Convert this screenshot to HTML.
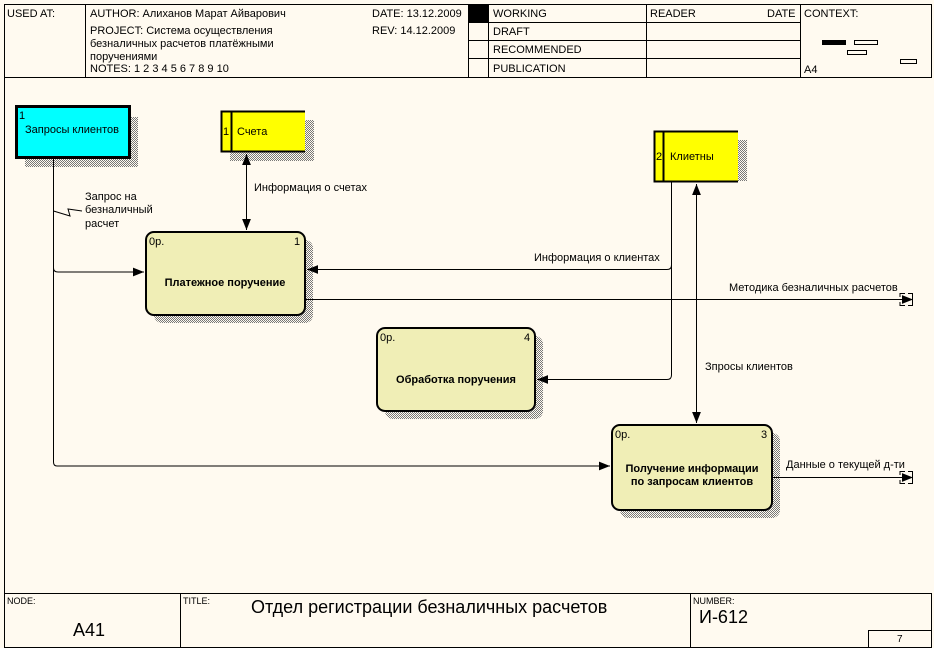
<!DOCTYPE html>
<html><head><meta charset="utf-8"><style>
html,body{margin:0;padding:0;background:#fffaf0;}
svg{display:block;}
text{font-family:"Liberation Sans","Noto Sans CJK SC",sans-serif;font-size:11px;fill:#000;}
.b{font-weight:bold;}
</style></head><body>
<svg width="934" height="648" viewBox="0 0 934 648" xmlns="http://www.w3.org/2000/svg">
<defs>
<pattern id="sh" width="2" height="2" patternUnits="userSpaceOnUse">
<rect width="1" height="1" fill="#777"/><rect x="1" y="1" width="1" height="1" fill="#777"/>
</pattern>
<marker id="ar" viewBox="0 0 10 10" refX="10" refY="5" markerWidth="11" markerHeight="11" markerUnits="userSpaceOnUse" orient="auto-start-reverse">
<path d="M0,1 L10,5 L0,9 z" fill="#000"/></marker>
</defs>
<rect width="934" height="648" fill="#fffaf0"/>
<g stroke="#000" stroke-width="1" fill="none">
<line x1="4.5" y1="4" x2="4.5" y2="648"/>
<line x1="4" y1="4.5" x2="932" y2="4.5"/>
<line x1="4" y1="77.5" x2="932" y2="77.5"/>
<line x1="931.5" y1="4" x2="931.5" y2="78"/>
<line x1="85.5" y1="4" x2="85.5" y2="77"/>
<line x1="468.5" y1="4" x2="468.5" y2="77"/>
<line x1="488.5" y1="4" x2="488.5" y2="77"/>
<line x1="646.5" y1="4" x2="646.5" y2="77"/>
<line x1="800.5" y1="4" x2="800.5" y2="77"/>
<line x1="468" y1="22.5" x2="800" y2="22.5"/>
<line x1="468" y1="40.5" x2="800" y2="40.5"/>
<line x1="468" y1="58.5" x2="800" y2="58.5"/>
<rect x="822.5" y="40.5" width="23" height="4" fill="#000"/>
<rect x="854.5" y="40.5" width="23" height="4"/>
<rect x="847.5" y="50.5" width="19" height="4"/>
<rect x="900.5" y="59.5" width="16" height="4"/>
</g>
<rect x="469" y="5" width="19" height="17" fill="#000"/>
<text x="7" y="17">USED AT:</text>
<text x="90" y="17">AUTHOR:  Алиханов Марат Айварович</text>
<text x="90" y="34">PROJECT:  Система осуществления</text>
<text x="90" y="47">безналичных расчетов платёжными</text>
<text x="90" y="60">поручениями</text>
<text x="90" y="72">NOTES:  1  2  3  4  5  6  7  8  9  10</text>
<text x="372" y="17">DATE:  13.12.2009</text>
<text x="372" y="34">REV:    14.12.2009</text>
<text x="493" y="17">WORKING</text>
<text x="493" y="35">DRAFT</text>
<text x="493" y="53">RECOMMENDED</text>
<text x="493" y="72">PUBLICATION</text>
<text x="650" y="17">READER</text>
<text x="767" y="17">DATE</text>
<text x="804" y="17">CONTEXT:</text>
<text x="804" y="73">A4</text>
<g stroke="#000" fill="none">
<line x1="4" y1="593.5" x2="932" y2="593.5"/>
<line x1="931.5" y1="593" x2="931.5" y2="648"/>
<line x1="180.5" y1="593" x2="180.5" y2="648"/>
<line x1="690.5" y1="593" x2="690.5" y2="648"/>
<line x1="4" y1="647.5" x2="932" y2="647.5"/>
<rect x="868.5" y="630.5" width="63" height="17"/>
</g>
<text x="7" y="604" style="font-size:9px">NODE:</text>
<text x="73" y="636" style="font-size:18px">A41</text>
<text x="183" y="604" style="font-size:9px">TITLE:</text>
<text x="251" y="613" style="font-size:18px">Отдел регистрации  безналичных расчетов</text>
<text x="693" y="604" style="font-size:9px">NUMBER:</text>
<text x="699" y="623" style="font-size:18px">И-612</text>
<text x="897" y="642" style="font-size:10px">7</text>
<rect x="25" y="117" width="113" height="50" fill="url(#sh)"/>
<rect x="230" y="120" width="84" height="41" fill="url(#sh)"/>
<rect x="663" y="140" width="84" height="41" fill="url(#sh)"/>
<rect x="154" y="240" width="159" height="83" rx="8" fill="url(#sh)"/>
<rect x="385" y="336" width="158" height="83" rx="8" fill="url(#sh)"/>
<rect x="620" y="433" width="160" height="85" rx="8" fill="url(#sh)"/>
<rect x="16.5" y="106.5" width="113" height="51" fill="#00ffff" stroke="#000" stroke-width="3"/>
<text x="19" y="119">1</text>
<text x="25" y="133">Запросы клиентов</text>
<rect x="221" y="111" width="84" height="41" fill="#ffff00"/>
<path d="M305,111.5 H221.5 V151.5 H305 M231.5,111 V152" stroke="#000" stroke-width="2" fill="none"/>
<text x="223" y="135">1</text>
<text x="237" y="135">Счета</text>
<rect x="654" y="131" width="84" height="51" fill="#ffff00"/>
<path d="M738,131.5 H654.5 V181.5 H738 M663.5,131 V182" stroke="#000" stroke-width="2" fill="none"/>
<text x="656" y="160">2</text>
<text x="670" y="160">Клиетны</text>
<g fill="#f0eeb6" stroke="#000" stroke-width="2">
<rect x="146" y="232" width="159" height="83" rx="8"/>
<rect x="377" y="328" width="158" height="83" rx="8"/>
<rect x="612" y="425" width="160" height="85" rx="8"/>
</g>
<text x="149" y="245">0р.</text><text x="294" y="245">1</text>
<text x="225" y="286" class="b" text-anchor="middle">Платежное поручение</text>
<text x="380" y="341">0р.</text><text x="524" y="341">4</text>
<text x="456" y="383" class="b" text-anchor="middle">Обработка поручения</text>
<text x="615" y="438">0р.</text><text x="761" y="438">3</text>
<text x="692" y="472" class="b" text-anchor="middle">Получение информации</text>
<text x="692" y="485" class="b" text-anchor="middle">по запросам клиентов</text>
<g stroke="#000" stroke-width="1" fill="none">
<path d="M53.5,157 V462 Q53.5,466 57,466 H610" marker-end="url(#ar)"/>
<path d="M53.5,268 Q53.5,272 58,272 H144" marker-end="url(#ar)"/>
<path d="M53.5,211 L70,216 L68,209 L82,211"/>
<path d="M246.5,154 V230" marker-start="url(#ar)" marker-end="url(#ar)"/>
<path d="M671.5,182 V265 Q671.5,269.5 667,269.5 H307" marker-end="url(#ar)"/>
<path d="M671.5,265 V375 Q671.5,379.5 667,379.5 H537" marker-end="url(#ar)"/>
<path d="M696.5,184 V423" marker-start="url(#ar)" marker-end="url(#ar)"/>
<path d="M305,299.5 H913" marker-end="url(#ar)"/>
<path d="M772,477.5 H913" marker-end="url(#ar)"/>
<path d="M900,293.5 H905 M900,305.5 H905 M900,293 V297 M900,302 V306 M908,293.5 H912.5 V305.5 H908"/>
<path d="M900,471.5 H905 M900,483.5 H905 M900,471 V475 M900,480 V484 M908,471.5 H912.5 V483.5 H908"/>
</g>
<text x="85" y="200">Запрос на</text>
<text x="85" y="213">безналичный</text>
<text x="85" y="227">расчет</text>
<text x="254" y="191">Информация о счетах</text>
<text x="534" y="261">Информация о клиентах</text>
<text x="729" y="291">Методика безналичных расчетов</text>
<text x="705" y="370">Зпросы клиентов</text>
<text x="786" y="468">Данные о текущей д-ти</text>
</svg>
</body></html>
